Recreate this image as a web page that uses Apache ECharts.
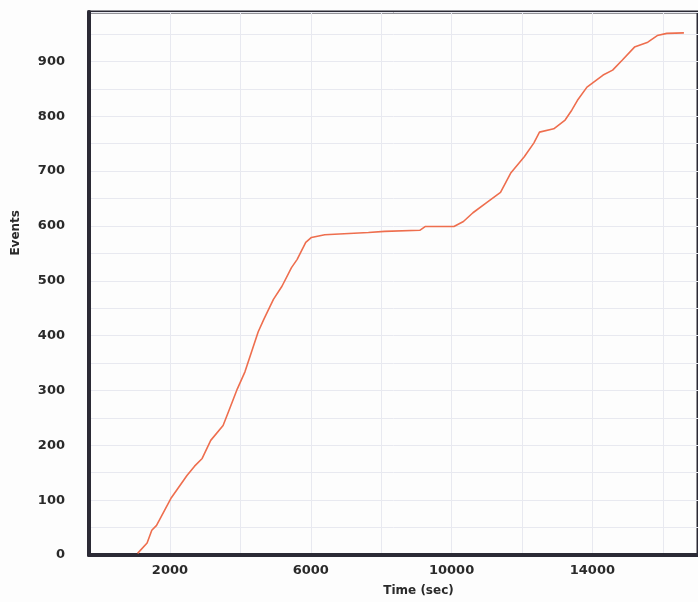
<!DOCTYPE html>
<html>
<head>
<meta charset="utf-8">
<script src="https://cdn.jsdelivr.net/npm/echarts@6/dist/echarts.min.js"></script>
<style>html,body{margin:0;padding:0;background:#fdfdfd;}#c{width:698px;height:602px;}</style>
</head>
<body>
<div id="c"></div>
<script>
// Time (sec)
const timeSec = [1080, 1350, 1484, 1619, 2024, 2483, 2699, 2915, 3158, 3509, 3698, 3914, 4130, 4507, 4669, 4939, 5182, 5452, 5614, 5857, 6019, 6397, 7638, 8097, 9096, 9258, 10067, 10337, 10607, 10985, 11390, 11687, 12065, 12335, 12497, 12902, 13225, 13414, 13576, 13846, 14305, 14575, 14845, 15196, 15574, 15843, 16113, 16600];
// Events (cumulative)
const events = [3, 22, 45, 54, 103, 145, 162, 176, 209, 236, 267, 303, 334, 407, 430, 466, 490, 524, 539, 570, 579, 584, 588, 590, 592, 599, 599, 608, 624, 642, 661, 697, 726, 751, 771, 777, 793, 811, 829, 853, 875, 884, 902, 926, 935, 947, 951, 952];
const xTickLabels = [2000, 6000, 10000, 14000];
const xGridValues = [2000, 4000, 6000, 8000, 10000, 12000, 14000, 16000];
const yTickLabels = [0, 100, 200, 300, 400, 500, 600, 700, 800, 900];

const chart = echarts.init(document.getElementById('c'), null, {renderer: 'canvas'});
const axisColor = '#2b2a35';
const labelFont = {fontFamily: 'DejaVu Sans', fontWeight: 'bold', fontSize: 13, color: '#2a2a2a'};
chart.setOption({
  backgroundColor: '#fdfdfd',
  animation: false,
  grid: {left: 89, right: -32, top: 12, bottom: 45, show: true, borderColor: axisColor, borderWidth: 3, backgroundColor: 'transparent'},
  xAxis: {
    type: 'value', min: -300, max: 17000,
    axisLine: {show: true, onZero: false, lineStyle: {color: axisColor, width: 4}},
    axisTick: {show: false, customValues: xGridValues},
    axisLabel: Object.assign({customValues: xTickLabels, margin: 9, formatter: v => String(v)}, labelFont),
    splitLine: {show: true, lineStyle: {color: '#e8e9f0', width: 1}},
    name: 'Time (sec)', nameLocation: 'middle', nameGap: 30,
    nameTextStyle: {fontFamily: 'DejaVu Sans', fontWeight: 'bold', fontSize: 12, color: '#2a2a2a', padding: [0, 0, 0, 50]}
  },
  yAxis: {
    type: 'value', min: 0, max: 990, interval: 50,
    axisLine: {show: true, onZero: false, lineStyle: {color: axisColor, width: 4}},
    axisTick: {show: false},
    axisLabel: Object.assign({customValues: yTickLabels, margin: 24, formatter: v => String(v)}, labelFont),
    splitLine: {show: true, lineStyle: {color: '#e8e9f0', width: 1}}
  },
  graphic: [{
    type: 'text', left: 10, top: 210, rotation: Math.PI / 2,
    style: {text: 'Events', font: 'bold 12px "DejaVu Sans"', fill: '#2a2a2a'}
  }],
  series: [{
    type: 'line', data: timeSec.map((t, i) => [t, events[i]]),
    showSymbol: false, smooth: false,
    lineStyle: {color: '#ee6e4e', width: 1.6}
  }]
});
</script>
</body>
</html>
